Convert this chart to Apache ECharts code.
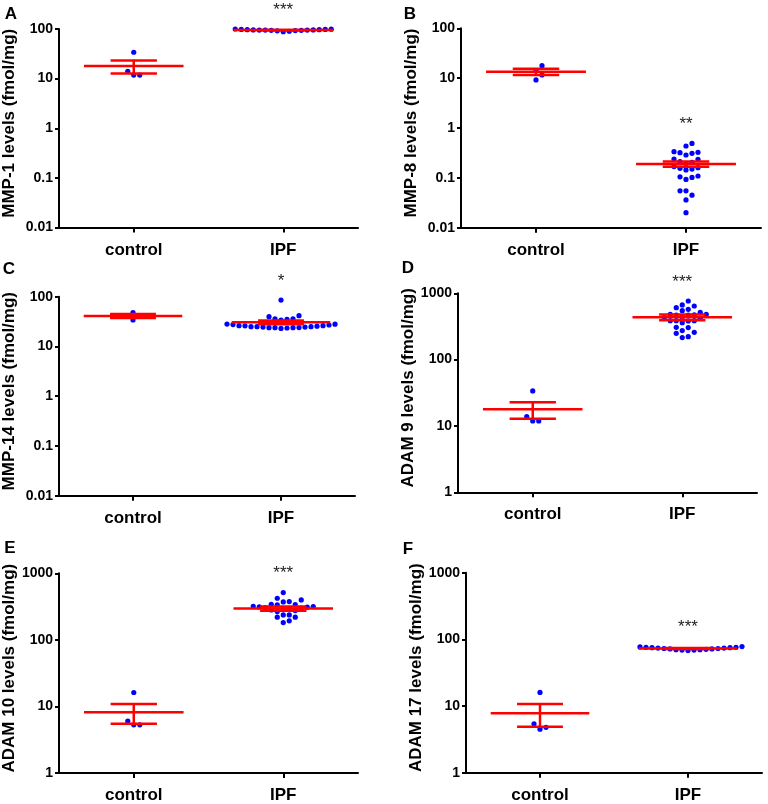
<!DOCTYPE html>
<html>
<head>
<meta charset="utf-8">
<script src="https://cdn.jsdelivr.net/npm/echarts@6/dist/echarts.min.js"></script>
<style>
  html, body { margin: 0; padding: 0; background: #fff; }
  #main { width: 768px; height: 804px; }
</style>
</head>
<body>
<div id="main"></div>
<script>
// ---- data ----
var categories = ['control', 'IPF'];
var panelLetters = ['A', 'B', 'C', 'D', 'E', 'F'];
var yTitles = [
  'MMP-1 levels (fmol/mg)', 'MMP-8 levels (fmol/mg)', 'MMP-14 levels (fmol/mg)',
  'ADAM 9 levels (fmol/mg)', 'ADAM 10 levels (fmol/mg)', 'ADAM 17 levels (fmol/mg)'
];
var yMin = [0.01, 0.01, 0.01, 1, 1, 1];
var yMax = [100, 100, 100, 1000, 1000, 1000];
var significance = ['***', '**', '*', '***', '***', '***'];

var mmp1Control = [34, 14, 11.8, 11.8];
var mmp1IPF = [100, 99, 98, 98, 97, 97, 96, 96, 95, 95, 95, 94, 94, 93, 92, 90, 88];
var mmp8Control = [17.8, 14, 11.6, 9.2];
var mmp8IPF = [0.49, 0.435, 0.335, 0.32, 0.287, 0.31, 0.325, 0.235, 0.211, 0.195, 0.205, 0.239,
  0.16, 0.155, 0.144, 0.15, 0.168, 0.109, 0.102, 0.093, 0.105, 0.045, 0.055, 0.055, 0.036, 0.020];
var mmp14Control = [48, 41, 40, 34];
var mmp14IPF = [85.7, 41.5, 39.6, 36, 35, 34, 36, 28.2, 28, 27, 26.2, 26, 25, 25, 24.5, 23.8, 23.8,
  23.5, 23, 23.8, 24, 24.5, 25, 25.5, 26.2, 27.5];
var adam9Control = [33.7, 13.8, 11.9, 11.9];
var adam9IPF = [766, 644, 608, 667, 517, 574, 548, 482, 469, 475, 482, 470, 440, 430, 420,
  387, 387, 361, 383, 387, 307, 304, 274, 249, 258, 215, 222];
var adam10Control = [16.2, 6, 5.3, 5.3];
var adam10IPF = [513, 422, 376, 372, 398, 335, 338, 343, 316, 320, 312, 310, 305, 300, 298, 290,
  282, 275, 266, 237, 219, 219, 237, 182, 193];
var adam17Control = [16, 5.4, 4.5, 4.8];
var adam17IPF = [78, 77, 76, 76, 75, 75, 74, 74, 73, 73, 72, 72, 71, 70, 70, 69, 69, 68];

var meanControl = [18, 13.5, 41, 17.8, 8.2, 7.8];
var semControl = [5.3, 1.95, 3.7, 5, 2.7, 2.9];
var meanIPF = [95, 0.19, 30.5, 435, 295, 73];
var semIPF = [1, 0.023, 2.6, 42, 21, 1];

var controlGroups = [mmp1Control, mmp8Control, mmp14Control, adam9Control, adam10Control, adam17Control];
var ipfGroups = [mmp1IPF, mmp8IPF, mmp14IPF, adam9IPF, adam10IPF, adam17IPF];

// ---- layout ----
var FONT = 'Liberation Sans, Arial, sans-serif';
var grids = [
  { left: 59, top: 29, width: 299, height: 198.5 },
  { left: 461, top: 28.3, width: 300, height: 199.4 },
  { left: 59, top: 296.7, width: 296, height: 199 },
  { left: 458, top: 293.3, width: 299, height: 199 },
  { left: 55, top: 573.3, width: 303, height: 200 },
  { left: 466, top: 572.7, width: 296, height: 200 }
];
var letterPos = [[11, 14], [410, 14], [9, 269], [408, 268], [10, 548], [408, 549]];
var nameGaps = [41, 41, 41, 37, 35, 39];

var DOT_R = 2.6, STEP = 6, MIN_DIST = 5.5;

// simple beeswarm: sort by value, put each dot at the nearest free column
function swarmOffsets(ys) {
  var order = ys.map(function (y, i) { return i; }).sort(function (a, b) { return ys[b] - ys[a]; });
  var placed = [], off = [];
  order.forEach(function (i) {
    for (var k = 0; k < 200; k++) {
      var cand = k === 0 ? 0 : (k % 2 ? 1 : -1) * Math.ceil(k / 2) * STEP;
      var ok = placed.every(function (p) {
        return Math.hypot(p.x - cand, p.y - ys[i]) >= MIN_DIST;
      });
      if (ok) { off[i] = cand; placed.push({ x: cand, y: ys[i] }); break; }
    }
  });
  return off;
}

function swarmRenderer(values, cat) {
  return function (params, api) {
    var ys = values.map(function (v) { return api.coord([cat, v])[1]; });
    var off = swarmOffsets(ys);
    var c = api.coord([cat, api.value(1)]);
    return {
      type: 'circle',
      shape: { cx: c[0] + off[params.dataIndex], cy: c[1], r: DOT_R },
      style: { fill: '#0000ff' }
    };
  };
}

// mean line + SEM bars, drawn over the dots like the original
function renderMeanSem(params, api) {
  var cat = api.value(0), m = api.value(1), s = api.value(2);
  var band = api.size([1, 0])[0];
  var c = api.coord([cat, m]);
  var hi = api.coord([cat, m + s]);
  var lo = api.coord([cat, m - s]);
  var w = band * 0.333, cw = band * 0.155;
  var st = { stroke: '#ff0000', lineWidth: 2.5 };
  function seg(x1, y1, x2, y2) {
    return { type: 'line', shape: { x1: x1, y1: y1, x2: x2, y2: y2 }, style: st };
  }
  return {
    type: 'group',
    children: [
      seg(c[0] - w, c[1], c[0] + w, c[1]),
      seg(c[0] - cw, hi[1], c[0] + cw, hi[1]),
      seg(c[0] - cw, lo[1], c[0] + cw, lo[1]),
      seg(c[0], hi[1], c[0], lo[1])
    ]
  };
}

function sigRenderer(label) {
  return function (params, api) {
    var c = api.coord([api.value(0), api.value(1)]);
    return {
      type: 'text',
      x: c[0],
      y: c[1] - 19,
      style: {
        text: label,
        fill: '#222',
        fontSize: 17,
        fontFamily: FONT,
        align: 'center',
        verticalAlign: 'middle'
      }
    };
  };
}

var xAxes = [], yAxes = [], series = [], graphics = [];
grids.forEach(function (g, i) {
  xAxes.push({
    type: 'category',
    gridIndex: i,
    data: categories,
    axisLine: { show: true, onZero: false, lineStyle: { color: '#000', width: 2 } },
    axisTick: { show: true, alignWithLabel: true, length: 5, lineStyle: { color: '#000', width: 2 } },
    axisLabel: { color: '#000', fontWeight: 'bold', fontSize: 17, fontFamily: FONT, margin: 14 },
    splitLine: { show: false }
  });
  yAxes.push({
    type: 'log',
    logBase: 10,
    gridIndex: i,
    min: yMin[i],
    max: yMax[i],
    name: yTitles[i],
    nameLocation: 'middle',
    nameGap: nameGaps[i],
    nameTextStyle: { color: '#000', fontWeight: 'bold', fontSize: 17, fontFamily: FONT, padding: [0, 0, 0, 10] },
    axisLine: { show: true, onZero: false, lineStyle: { color: '#000', width: 2 } },
    axisTick: { show: true, length: 4, lineStyle: { color: '#000', width: 2 } },
    minorTick: { show: false },
    splitLine: { show: false },
    axisLabel: {
      color: '#000', fontWeight: 'bold', fontSize: 14, fontFamily: FONT, margin: 6,
      formatter: function (v) { return String(+v.toPrecision(3)); }
    }
  });

  series.push({
    type: 'custom',
    xAxisIndex: i, yAxisIndex: i,
    renderItem: swarmRenderer(controlGroups[i], 0),
    data: controlGroups[i].map(function (v) { return [0, v]; }),
    z: 2
  });
  series.push({
    type: 'custom',
    xAxisIndex: i, yAxisIndex: i,
    renderItem: swarmRenderer(ipfGroups[i], 1),
    data: ipfGroups[i].map(function (v) { return [1, v]; }),
    z: 2
  });
  series.push({
    type: 'custom',
    xAxisIndex: i, yAxisIndex: i,
    renderItem: renderMeanSem,
    data: [[0, meanControl[i], semControl[i]], [1, meanIPF[i], semIPF[i]]],
    z: 3
  });
  series.push({
    type: 'custom',
    xAxisIndex: i, yAxisIndex: i,
    renderItem: sigRenderer(significance[i]),
    data: [[1, Math.max.apply(null, ipfGroups[i])]],
    z: 3
  });

  graphics.push({
    type: 'text',
    x: letterPos[i][0],
    y: letterPos[i][1],
    style: {
      text: panelLetters[i],
      fill: '#000',
      fontSize: 17,
      fontWeight: 'bold',
      fontFamily: FONT,
      align: 'center',
      verticalAlign: 'middle'
    }
  });
});

var myChart = echarts.init(document.getElementById('main'));
myChart.setOption({
  animation: false,
  backgroundColor: '#fff',
  grid: grids,
  xAxis: xAxes,
  yAxis: yAxes,
  series: series,
  graphic: graphics
});
</script>
</body>
</html>
